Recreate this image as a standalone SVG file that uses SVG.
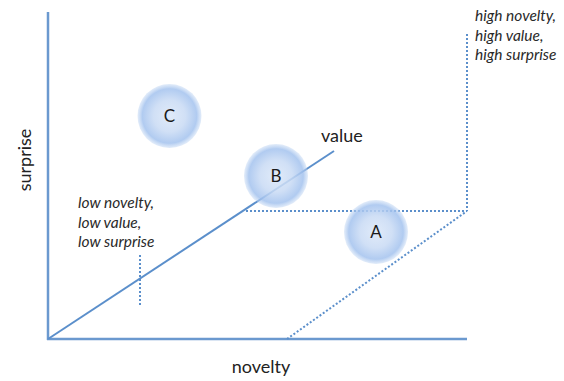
<svg xmlns="http://www.w3.org/2000/svg" width="564" height="381" viewBox="0 0 564 381">
<style>
.axis{stroke:#6b99cf;stroke-width:2.5;fill:none}
.solid{stroke:#5b8fcb;stroke-width:2;fill:none}
.dot{stroke:#5b8fcb;stroke-width:2;fill:none;stroke-dasharray:2 2}
.lbl{font-family:Lato,"Open Sans",sans-serif;fill:#222}
.it{font-family:Lato,"Open Sans",sans-serif;font-style:italic;font-size:15.5px;fill:#2a2a2a}
.node circle{fill:url(#g);opacity:0.85}
.node text{font-family:Lato,"Open Sans",sans-serif;font-size:17px;fill:#1a1a1a;text-anchor:middle}
</style>
<defs>
<radialGradient id="g" cx="0.5" cy="0.5" r="0.5">
<stop offset="0" stop-color="#dbe7f8"/>
<stop offset="0.5" stop-color="#c8daf4"/>
<stop offset="0.85" stop-color="#a3c2ee"/>
<stop offset="1" stop-color="#bcd3f2" stop-opacity="0.5"/>
</radialGradient>
</defs>
<g id="connectors">
<line class="axis" x1="48" y1="12" x2="48" y2="340"/>
<line class="axis" x1="47" y1="339" x2="467" y2="339"/>
<line class="solid" x1="48" y1="339" x2="334" y2="151"/>
<line class="dot" x1="246" y1="211" x2="467" y2="211"/>
<line class="dot" x1="467" y1="34" x2="467" y2="211"/>
<line class="dot" x1="287" y1="339" x2="467" y2="211"/>
<line class="dot" x1="140" y1="255" x2="140" y2="305"/>
</g>
<g id="C" class="node"><circle cx="169.5" cy="116" r="32"/><text x="169.5" y="122">C</text></g>
<g id="B" class="node"><circle cx="276" cy="176" r="32"/><text x="276" y="182">B</text></g>
<g id="A" class="node"><circle cx="376" cy="232" r="32"/><text x="376" y="238">A</text></g>
<g id="labels">
<text class="lbl" x="321" y="142" font-size="18">value</text>
<text class="lbl" x="261" y="373" font-size="18" text-anchor="middle">novelty</text>
<text class="lbl" x="0" y="0" font-size="18" text-anchor="middle" transform="translate(31,160) rotate(-90)">surprise</text>
<text class="it" x="78" y="208">low novelty,</text>
<text class="it" x="78" y="228">low value,</text>
<text class="it" x="78" y="247">low surprise</text>
<text class="it" x="475" y="21">high novelty,</text>
<text class="it" x="475" y="41">high value,</text>
<text class="it" x="475" y="60">high surprise</text>
</g>
</svg>
